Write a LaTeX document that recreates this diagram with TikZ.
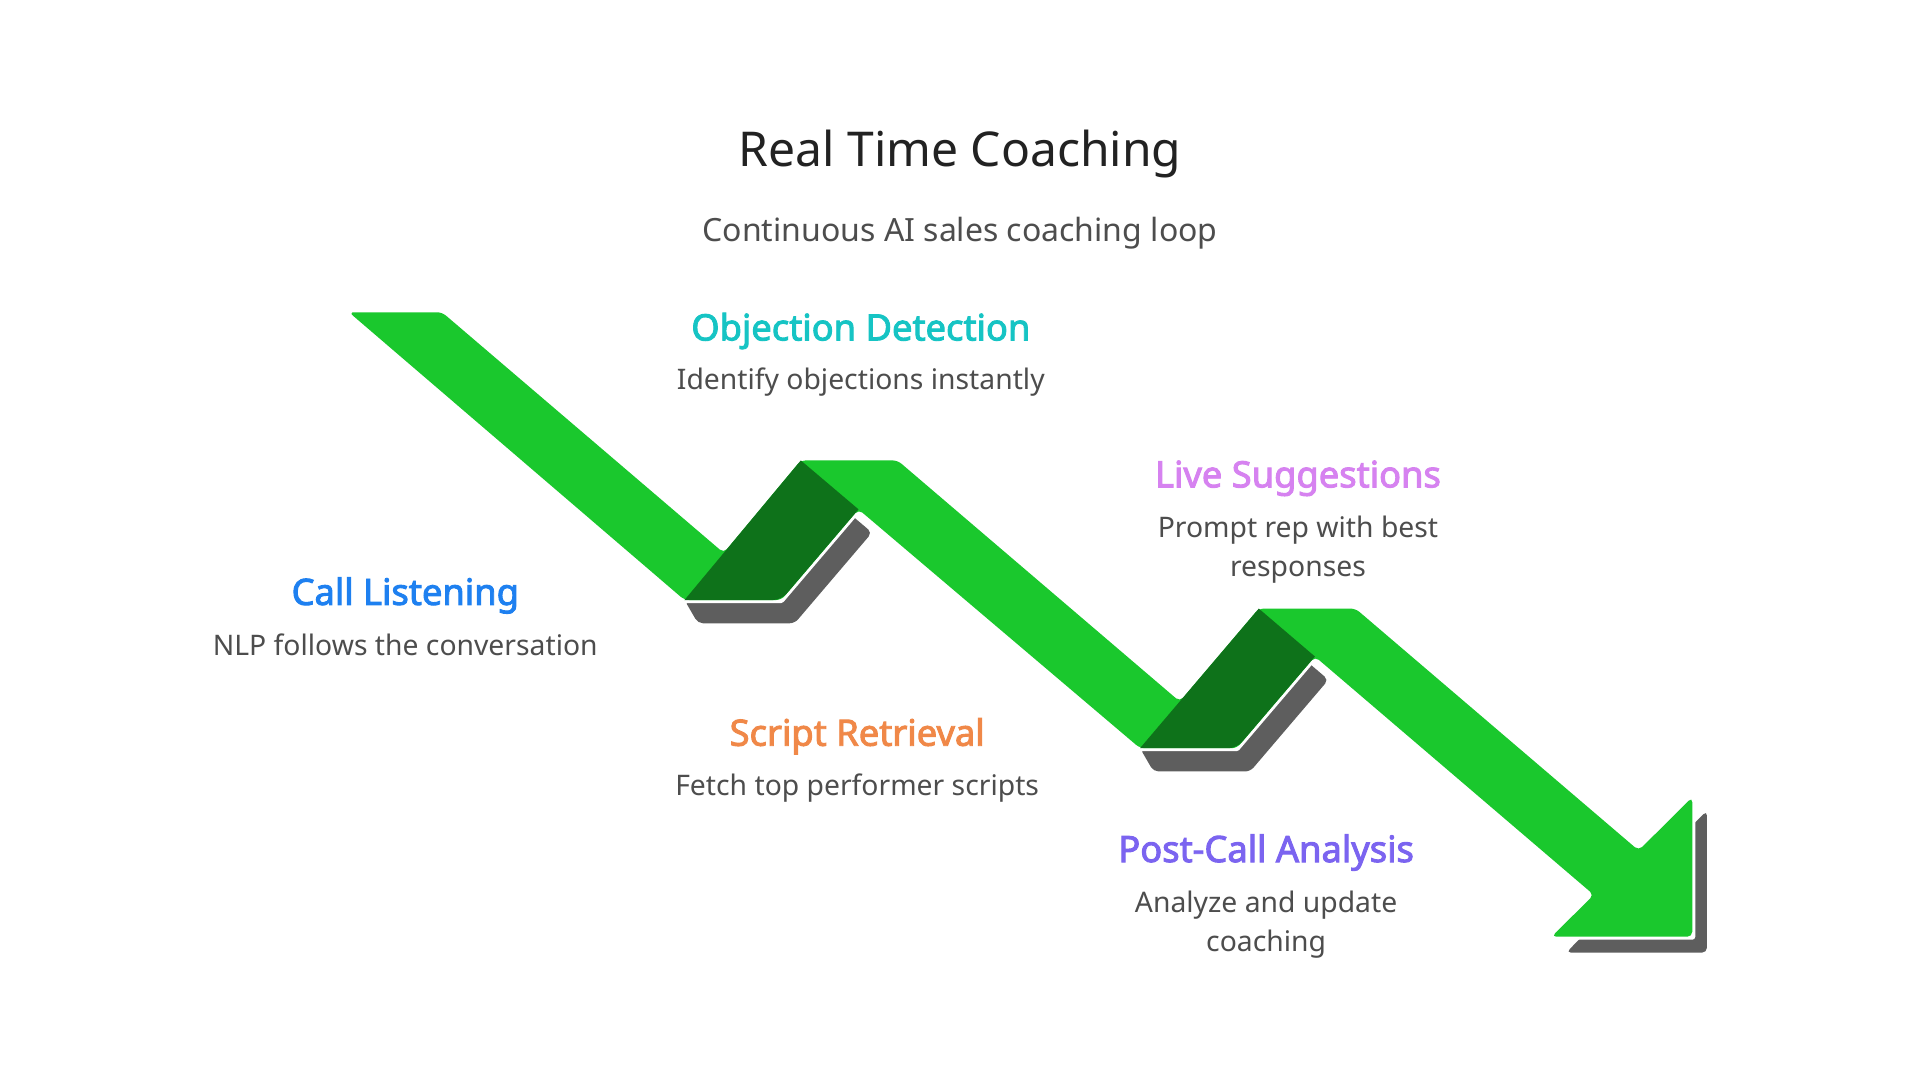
\documentclass[tikz,border=0pt]{standalone}
\usepackage{fontspec}
\setmainfont{Noto Sans}[AutoFakeBold=2.6]
\usetikzlibrary{calc}
\definecolor{arrowgreen}{RGB}{26,200,45}
\definecolor{folddark}{RGB}{14,114,26}
\definecolor{shadowgray}{RGB}{94,94,94}
\definecolor{titlecol}{RGB}{34,34,34}
\definecolor{bodycol}{RGB}{77,77,77}
\definecolor{tealcol}{RGB}{22,196,196}
\definecolor{pinkcol}{RGB}{214,130,240}
\definecolor{bluecol}{RGB}{30,128,240}
\definecolor{orangecol}{RGB}{240,136,72}
\definecolor{purplecol}{RGB}{123,100,240}
\tikzset{
  titlestyle/.style={anchor=base, inner sep=0pt, text=titlecol, font=\fontsize{48}{58}\selectfont},
  substyle/.style={anchor=base, inner sep=0pt, text=bodycol, font=\fontsize{32}{38}\selectfont},
  headstyle/.style={anchor=base, inner sep=0pt, font=\bfseries\fontsize{36.3}{43}\selectfont},
  bodystyle/.style={anchor=base, inner sep=0pt, text=bodycol, align=center, font=\fontsize{28.3}{39}\selectfont},
  shadowshape/.style={fill=shadowgray, rounded corners=5pt},
  gapline/.style={draw=white, line width=6pt, line join=round},
  greenfill/.style={fill=arrowgreen, rounded corners=5pt},
  darkfill/.style={fill=folddark},
}
\begin{document}
\begin{tikzpicture}[x=1.2245pt, y=-1.2245pt]
\useasboundingbox[fill=white] (0,0) rectangle (1568,882);

% key points of the zig-zag arrow
\coordinate (P0) at (285,255);
\coordinate (Q0) at (361,255);
\coordinate (A1) at (559,490);
\coordinate (B1) at (654,376);
\coordinate (E1) at (638,490);
\coordinate (Q1) at (733,376);
\coordinate (A2) at (931,611);
\coordinate (B2) at (1028,497);
\coordinate (E2) at (1010,611);
\coordinate (Q2) at (1107,497);
\coordinate (T1) at (1382,651);
\coordinate (T2) at (1382,765);
\coordinate (T3) at (1267,765);
% helper directions
\coordinate (Z0) at ($(Q0)+(275,235)$);
\coordinate (F1) at ($(E1)+(97,-114)$);
\coordinate (Z1) at ($(Q1)+(275,235)$);
\coordinate (F2) at ($(E2)+(97,-114)$);
\coordinate (Z2) at ($(Q2)+(275,235)$);
\coordinate (L2) at ($(B2)+(275,235)$);
% intersections
\coordinate (X1) at (intersection of Q0--Z0 and A1--B1);
\coordinate (C1) at (intersection of E1--F1 and B1--A2);
\coordinate (X2) at (intersection of Q1--Z1 and A2--B2);
\coordinate (C2) at (intersection of E2--F2 and B2--L2);
\coordinate (R3) at (intersection of Q2--Z2 and T1--T3);
\coordinate (Y3) at (intersection of B2--L2 and T1--T3);

% shadows
\path[shadowshape] (A1) -- ($(A1)+(11,19)$) -- ($(E1)+(11,19)$) -- ($(C1)+(11,19)$) -- ($(B1)+(11,19)$) -- (B1) -- cycle;
\path[shadowshape] (A2) -- ($(A2)+(11,19)$) -- ($(E2)+(11,19)$) -- ($(C2)+(11,19)$) -- ($(B2)+(11,19)$) -- (B2) -- cycle;
\path[shadowshape] ($(T1)+(12,11)$) -- ($(T2)+(12,13)$) -- ($(T3)+(12,13)$) -- cycle;

% arrow outline (white gap), then fill
\path[gapline] (P0) -- (Q0) -- (X1) -- (B1) -- (Q1) -- (X2) -- (B2) -- (Q2) -- (R3) -- (T1) -- (T2) -- (T3) -- (Y3) -- (C2) -- (E2) -- (A2) -- (C1) -- (E1) -- (A1) -- cycle;
\path[greenfill] (P0) -- (Q0) -- (X1) -- (B1) -- (Q1) -- (X2) -- (B2) -- (Q2) -- (R3) -- (T1) -- (T2) -- (T3) -- (Y3) -- (C2) -- (E2) -- (A2) -- (C1) -- (E1) -- (A1) -- cycle;
\path[darkfill] (A1) -- (B1) -- (C1) [rounded corners=8pt] -- (E1) [sharp corners] -- cycle;
\path[darkfill] (A2) -- (B2) -- (C2) [rounded corners=8pt] -- (E2) [sharp corners] -- cycle;

% texts
\node[titlestyle] (title) at (784,136) {Real Time Coaching};
\node[substyle] (subtitle) at (784,197) {Continuous AI sales coaching loop};

\node[headstyle, text=tealcol] (objh) at (703,278) {Objection Detection};
\node[bodystyle] (objb) at (703,318) {Identify objections instantly};

\node[headstyle, text=pinkcol] (liveh) at (1060,398) {Live Suggestions};
\node[bodystyle] (liveb) at (1060,471) {Prompt rep with best\\responses};

\node[headstyle, text=bluecol] (callh) at (331,494) {Call Listening};
\node[bodystyle] (callb) at (331,535) {NLP follows the conversation};

\node[headstyle, text=orangecol] (scrh) at (700,609) {Script Retrieval};
\node[bodystyle] (scrb) at (700,650) {Fetch top performer scripts};

\node[headstyle, text=purplecol] (posth) at (1034,704) {Post-Call Analysis};
\node[bodystyle] (postb) at (1034,777) {Analyze and update\\coaching};
\end{tikzpicture}
\end{document}
